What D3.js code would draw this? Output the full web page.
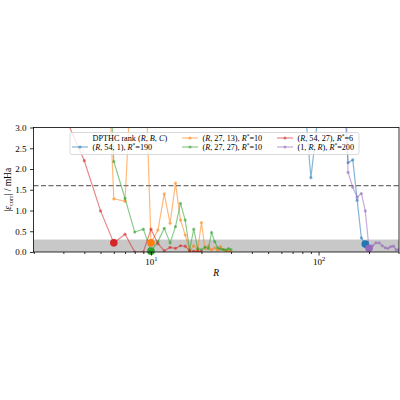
<!DOCTYPE html>
<html>
<head>
<meta charset="utf-8">
<script src="https://cdn.jsdelivr.net/npm/d3@7"></script>
<style>
  body { margin: 0; background: #fff; }
  svg { display: block; }
  text { font-family: "Liberation Serif", "DejaVu Serif", serif; }
</style>
</head>
<body>
<script>
// values, points above 3.0 get clipped by the frame
var blueR = [80, 90, 100, 110, 120, 130, 140, 150, 160, 170, 180, 190];
var blueE = [4.3, 1.79, 3.4, 5, 5, 5, 4.2, 2.15, 2.22, 1.25, 0.34, 0.19];

var orangeR = [5, 6, 7, 8, 9, 10, 11, 12, 13, 14, 15, 16, 17, 18, 19, 20, 21, 22, 23, 24, 25, 26, 27, 28, 29, 30];
var orangeE = [9, 1.28, 1.22, 6, 6, 0.22, 0.53, 1.4, 0.69, 1.66, 0.77, 0.41, 0.03, 0.15, 0.05, 0.71, 0.08, 0.15, 0.05, 0.1, 0.04, 0.13, 0.06, 0.03, 0.02, 0.02];

var greenR = [5, 6, 7, 8, 9, 10, 11, 12, 13, 14, 15, 16, 17, 18, 19, 20, 21, 22, 23, 24, 25, 26, 27, 28, 29, 30];
var greenE = [9, 2.18, 1.29, 0.48, 0.55, 0.02, 0.25, 0.57, 0.22, 0.61, 1.17, 0.77, 0.05, 0.55, 0.08, 0.05, 0.12, 0.08, 0.47, 0.25, 0.1, 0.07, 0.06, 0.05, 0.08, 0.06];

var redR = [3, 4, 5, 6, 7, 8, 9, 10, 11, 12, 13, 14, 15, 16, 17, 18, 19, 20];
var redE = [3.35, 2.2, 0.99, 0.22, 0.43, 0.0, 0.0, 0.55, 0.2, 0.03, 0.11, 0.09, 0.15, 0.14, 0.03, 0.02, 0.02, 0.01];

var purpleR = [140, 150, 160, 170, 180, 190, 200, 210, 220, 230, 240, 250, 260, 270, 280, 290, 300];
var purpleE = [6, 1.92, 1.56, 1.32, 1.41, 0.99, 0.09, 0.15, 0.22, 0.22, 0.15, 0.1, 0.09, 0.13, 0.14, 0.05, 0.06];

// the chosen rank R* of each series and its error
var seriesNames = ["(R,54,1)", "(R,27,13)", "(R,27,27)", "(R,54,27)", "(1,R,R)"];
var starR = [190, 10, 10, 6, 200];
var starE = [0.19, 0.22, 0.02, 0.22, 0.09];

var yTicks = [0, 0.5, 1.0, 1.5, 2.0, 2.5, 3.0];
var xMajor = [10, 100];
var xMinor = [2, 3, 4, 5, 6, 7, 8, 9, 20, 30, 40, 50, 60, 70, 80, 90, 200, 300];
var accuracy = 1.6;   // dashed line
var bandTop = 0.3;    // grey band

var colors = ["#1f77b4", "#ff7f0e", "#2ca02c", "#d62728", "#9467bd"];

var series = [
  {R: blueR, E: blueE},
  {R: orangeR, E: orangeE},
  {R: greenR, E: greenE},
  {R: redR, E: redE},
  {R: purpleR, E: purpleE}
];

var W = 400, H = 400;
var pLeft = 33.5, pRight = 399, pTop = 127.5, pBottom = 252;

var svg = d3.select("body").append("svg")
    .attr("width", W)
    .attr("height", H);

var x = d3.scaleLog().domain([1.99, 302]).range([pLeft, pRight]);
var y = d3.scaleLinear().domain([0, 3]).range([pBottom, pTop]);

svg.append("clipPath").attr("id", "plotclip")
  .append("rect")
    .attr("x", pLeft).attr("y", pTop)
    .attr("width", pRight - pLeft).attr("height", pBottom - pTop);

var plot = svg.append("g").attr("clip-path", "url(#plotclip)");

// grey band 0..0.3
plot.append("rect")
    .attr("x", pLeft)
    .attr("y", y(bandTop))
    .attr("width", pRight - pLeft)
    .attr("height", y(0) - y(bandTop))
    .attr("fill", "#c8c8c8");

// dashed accuracy line
plot.append("line")
    .attr("x1", pLeft).attr("x2", pRight)
    .attr("y1", y(accuracy)).attr("y2", y(accuracy))
    .attr("stroke", "#6e6e6e")
    .attr("stroke-width", 1.4)
    .attr("stroke-dasharray", "5,2.5");

var line = d3.line()
    .x(function(d) { return x(d[0]); })
    .y(function(d) { return y(d[1]); });

series.forEach(function(s, i) {
  var pts = s.R.map(function(r, k) { return [r, s.E[k]]; });
  plot.append("path")
      .datum(pts)
      .attr("d", line)
      .attr("fill", "none")
      .attr("stroke", colors[i])
      .attr("stroke-opacity", 0.55)
      .attr("stroke-width", 1.2);
  plot.selectAll(null)
      .data(pts)
      .enter().append("circle")
      .attr("cx", function(d) { return x(d[0]); })
      .attr("cy", function(d) { return y(d[1]); })
      .attr("r", 1.6)
      .attr("fill", colors[i])
      .attr("fill-opacity", 0.55);
});

// big markers at R*
starR.forEach(function(r, i) {
  svg.append("circle")
      .attr("cx", x(r))
      .attr("cy", y(starE[i]))
      .attr("r", 3.8)
      .attr("fill", colors[i]);
});

// axes
var yAxis = svg.append("g")
    .attr("transform", "translate(" + pLeft + ",0)")
    .call(d3.axisLeft(y).tickValues(yTicks).tickFormat(d3.format(".1f")).tickSize(3.5).tickPadding(3.5));

var xAxis = svg.append("g")
    .attr("transform", "translate(0," + pBottom + ")")
    .call(d3.axisBottom(x).tickValues(xMajor).tickFormat("").tickSize(3.5).tickPadding(3));

svg.append("g")
    .attr("transform", "translate(0," + pBottom + ")")
    .call(d3.axisBottom(x).tickValues(xMinor).tickFormat("").tickSize(2));

svg.selectAll(".domain").remove();
svg.selectAll(".tick line").attr("stroke", "#000").attr("stroke-width", 0.8);
yAxis.selectAll("text").attr("font-size", 9).attr("fill", "#000")
    .style("font-family", "'Liberation Serif', serif");

// 10^n labels
xAxis.selectAll(".tick").each(function(d) {
  var t = d3.select(this).append("text")
      .attr("y", 12.5)
      .attr("text-anchor", "middle")
      .attr("font-size", 9)
      .attr("fill", "#000");
  t.append("tspan").text("10");
  t.append("tspan").attr("dy", -3.5).attr("font-size", 6.5).text(Math.round(Math.log10(d)));
});

// frame
svg.append("rect")
    .attr("x", pLeft).attr("y", pTop)
    .attr("width", pRight - pLeft).attr("height", pBottom - pTop)
    .attr("fill", "none")
    .attr("stroke", "#000")
    .attr("stroke-width", 0.8);

// axis labels
svg.append("text")
    .attr("x", (pLeft + pRight) / 2)
    .attr("y", 276)
    .attr("text-anchor", "middle")
    .attr("font-size", 9.5)
    .attr("font-style", "italic")
    .text("R");

var yl = svg.append("text")
    .attr("transform", "translate(11," + ((pTop + pBottom) / 2) + ") rotate(-90)")
    .attr("text-anchor", "middle")
    .attr("font-size", 9.5);
yl.append("tspan").text("|");
yl.append("tspan").attr("font-style", "italic").text("ε");
yl.append("tspan").attr("font-size", 6.5).attr("dy", 2).text("corr");
yl.append("tspan").attr("dy", -2).text("| / mHa");

// rich text helper: parts are [text, kind] with kind "i" or "sup"
function rich(sel, parts) {
  var shift = 0;
  parts.forEach(function(p) {
    var ts = sel.append("tspan").text(p[0]);
    if (p[1] === "i") ts.attr("font-style", "italic");
    if (p[1] === "sup") {
      ts.attr("font-size", 5.5).attr("dy", -3);
      shift = 3;
    } else if (shift) {
      ts.attr("dy", shift);
      shift = 0;
    }
  });
}

function nameParts(i) {
  var n = seriesNames[i].replace(/[()]/g, "").split(",");
  var parts = [["("]];
  n.forEach(function(v, k) {
    if (k > 0) parts.push([", "]);
    parts.push(v === "R" ? ["R", "i"] : [v]);
  });
  parts.push(["), "]);
  parts.push(["R", "i"]);
  parts.push(["*", "sup"]);
  parts.push(["=" + starR[i]]);
  return parts;
}

// legend
var lg = svg.append("g");
lg.append("rect")
    .attr("x", 70).attr("y", 132.5)
    .attr("width", 289).attr("height", 22)
    .attr("rx", 2)
    .attr("fill", "#fff").attr("fill-opacity", 0.8)
    .attr("stroke", "#d0d0d0").attr("stroke-width", 0.8);

var colX = [72, 182, 277];
var rowY = [138, 147];
var slots = [[0, 1], [1, 0], [1, 1], [2, 0], [2, 1]]; // column, row for each series

rich(lg.append("text").attr("x", 92.5).attr("y", rowY[0] + 2.8).attr("font-size", 8.2),
  [["DPTHC rank ("], ["R", "i"], [", "], ["B", "i"], [", "], ["C", "i"], [")"]]);

slots.forEach(function(sl, i) {
  var hx = colX[sl[0]], hy = rowY[sl[1]];
  lg.append("line")
      .attr("x1", hx).attr("x2", hx + 16)
      .attr("y1", hy).attr("y2", hy)
      .attr("stroke", colors[i]).attr("stroke-opacity", 0.55).attr("stroke-width", 1.2);
  lg.append("circle")
      .attr("cx", hx + 8).attr("cy", hy).attr("r", 1.6)
      .attr("fill", colors[i]).attr("fill-opacity", 0.55);
  rich(lg.append("text").attr("x", hx + 20.5).attr("y", hy + 2.8).attr("font-size", 8.2),
    nameParts(i));
});
</script>
</body>
</html>
